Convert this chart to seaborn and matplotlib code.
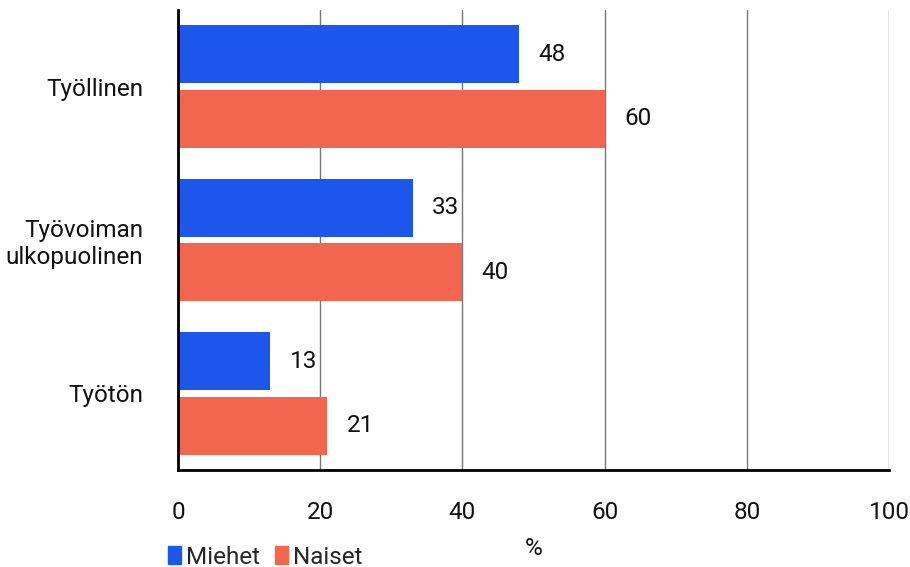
import pandas as pd
import matplotlib
matplotlib.use('Agg')
import matplotlib.pyplot as plt
import seaborn as sns
from matplotlib.patches import Patch

# Data
kategoriat = ['Työllinen', 'Työvoiman\nulkopuolinen', 'Työtön']
miehet = [48, 33, 13]
naiset = [60, 40, 21]
sarjat = ['Miehet', 'Naiset']
varit = ['#1c56eb', '#f2654e']
x_ticks = [0, 20, 40, 60, 80, 100]

df = pd.DataFrame({
    'kategoria': kategoriat * 2,
    'arvo': miehet + naiset,
    'sukupuoli': [sarjat[0]] * 3 + [sarjat[1]] * 3,
})

sns.set_style('white')
plt.rcParams['font.family'] = ['Roboto', 'DejaVu Sans']
fs = 17.5

fig = plt.figure(figsize=(9.1, 5.67), dpi=100)
ax = fig.add_axes([178 / 910, 1 - 470 / 567, 711 / 910, 460 / 567])

sns.barplot(data=df, y='kategoria', x='arvo', hue='sukupuoli', order=kategoriat,
            palette=varit, width=0.84, gap=0.1, orient='h', ax=ax, legend=False,
            saturation=1, linewidth=0, zorder=3)

for cont in ax.containers:
    ax.bar_label(cont, padding=14, fontsize=fs, color='#111111')

ax.set_xlim(0, 100)
ax.set_ylim(2.5, -0.5)
ax.set_xticks(x_ticks)
ax.xaxis.grid(True, color='#777777', linewidth=1, zorder=0)
ax.tick_params(axis='x', length=0, pad=22, labelsize=fs, colors='#111111')
ax.tick_params(axis='y', length=0, pad=25, labelsize=fs, colors='#111111')
ax.set_ylabel('')
ax.set_xlabel('%', fontsize=fs, color='#111111', labelpad=10)
for s in ['top', 'right']:
    ax.spines[s].set_visible(False)
for s in ['left', 'bottom']:
    ax.spines[s].set_color('black')
    ax.spines[s].set_linewidth(2)
    ax.spines[s].set_zorder(4)

handles = [Patch(color=c, label=l) for c, l in zip(varit, sarjat)]
fig.legend(handles=handles, loc='lower left', bbox_to_anchor=(158 / 910, -0.02), ncol=2,
           frameon=False, fontsize=fs, handlelength=0.55, handleheight=0.75,
           handletextpad=0.2, columnspacing=0.6, borderaxespad=0)

plt.savefig('out.png', dpi=100)
